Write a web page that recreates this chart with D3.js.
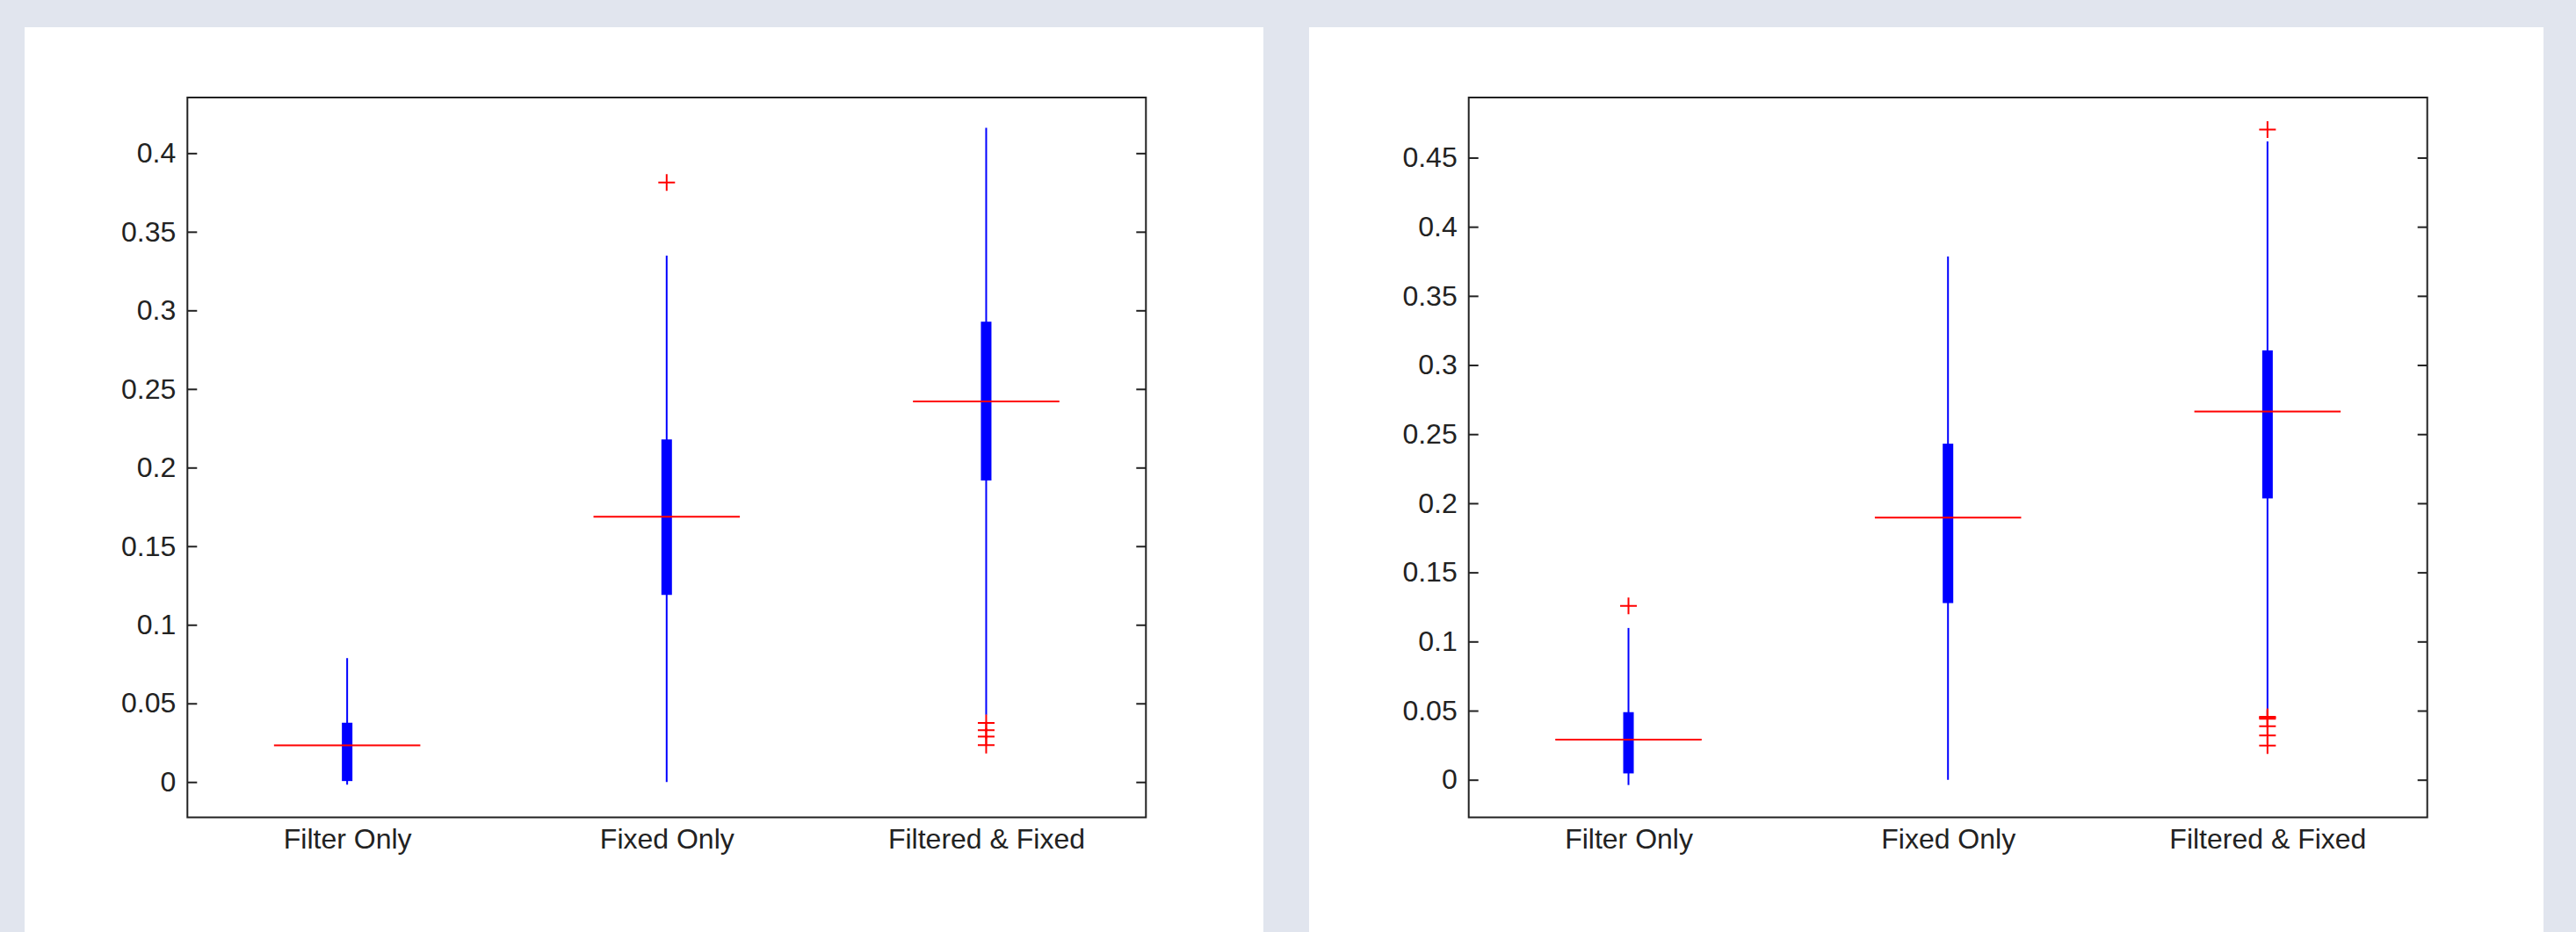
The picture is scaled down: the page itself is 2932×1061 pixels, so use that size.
<!DOCTYPE html>
<html>
<head>
<meta charset="utf-8">
<script src="https://cdn.jsdelivr.net/npm/d3@7"></script>
<style>
  body { margin: 0; background: #e1e5ee; }
  #wrapper { width: 2932px; height: 1061px; position: relative; }
  .panel { position: absolute; top: 31px; background: #ffffff; height: 1030px; }
  text { font-family: "Liberation Sans", Arial, Helvetica, sans-serif; }
</style>
</head>
<body>
<div id="wrapper">
  <div class="panel" id="left" style="left:28px;width:1410px"></div>
  <div class="panel" id="right" style="left:1490px;width:1405px"></div>
</div>
<script>
// Data
const categories = ['Filter Only', 'Fixed Only', 'Filtered & Fixed']

// left chart
const leftLowWhisker  = [-0.0017, 0.0, 0.0427]
const leftQ1          = [0.0006, 0.1190, 0.1918]
const leftMedian      = [0.0233, 0.1687, 0.2421]
const leftQ3          = [0.0377, 0.2179, 0.2928]
const leftHighWhisker = [0.0788, 0.3348, 0.4161]
const leftOutliers    = [[], [0.3813], [0.0375, 0.0330, 0.0289, 0.0235]]
const leftTicks       = [0, 0.05, 0.1, 0.15, 0.2, 0.25, 0.3, 0.35, 0.4]
const leftDomain      = [-0.0225, 0.4354]

// right chart
const rightLowWhisker  = [-0.0038, 0.0, 0.0465]
const rightQ1          = [0.0046, 0.1278, 0.2035]
const rightMedian      = [0.0290, 0.1896, 0.2664]
const rightQ3          = [0.0489, 0.2431, 0.3106]
const rightHighWhisker = [0.1098, 0.3785, 0.4618]
const rightOutliers    = [[0.1257], [], [0.4703, 0.0456, 0.0449, 0.0442, 0.0388, 0.0320, 0.0248]]
const rightTicks       = [0, 0.05, 0.1, 0.15, 0.2, 0.25, 0.3, 0.35, 0.4, 0.45]
const rightDomain      = [-0.0272, 0.4935]

function drawBoxplot(id, plotLeft, stats, ticks, domain) {
  const dimensions = {
    width: +d3.select(id).style('width').replace('px', ''),
    height: 1030,
    margins: { top: 80, left: plotLeft }
  }
  dimensions.boundedWidth = 1091
  dimensions.boundedHeight = 819.5

  const wrapper = d3.select(id).append('svg')
    .attr('width', dimensions.width)
    .attr('height', dimensions.height)

  const bounds = wrapper.append('g')
    .attr('transform', `translate(${dimensions.margins.left},${dimensions.margins.top})`)

  // Scales
  const xScale = d3.scalePoint()
    .domain(categories)
    .range([0, dimensions.boundedWidth])
    .padding(0.5)

  const step = xScale.step()

  const yScale = d3.scaleLinear()
    .domain(domain)
    .range([dimensions.boundedHeight, 0])

  const rows = categories.map((c, i) => ({
    cat: c,
    lo: stats.low[i], q1: stats.q1[i], med: stats.median[i],
    q3: stats.q3[i], hi: stats.high[i], out: stats.outliers[i]
  }))

  // Axes
  const fmt = d => String(+d.toFixed(2))
  const yAxis = bounds.append('g')
    .call(d3.axisLeft(yScale).tickValues(ticks).tickFormat(fmt).tickSize(-11).tickPadding(13))
  const yAxisRight = bounds.append('g')
    .attr('transform', `translate(${dimensions.boundedWidth},0)`)
    .call(d3.axisRight(yScale).tickValues(ticks).tickFormat('').tickSize(-11))
  const xAxis = bounds.append('g')
    .attr('transform', `translate(0,${dimensions.boundedHeight})`)
    .call(d3.axisBottom(xScale).tickSize(0).tickPadding(13))

  ;[yAxis, yAxisRight, xAxis].forEach(a => {
    a.select('.domain').remove()
    a.selectAll('line').attr('stroke', '#222').attr('stroke-width', 2)
    a.selectAll('text').attr('fill', '#222').style('font-size', '32px')
  })

  bounds.append('rect')
    .attr('width', dimensions.boundedWidth)
    .attr('height', dimensions.boundedHeight)
    .attr('fill', 'none')
    .attr('stroke', '#222')
    .attr('stroke-width', 2)

  const boxes = bounds.selectAll('.box')
    .data(rows)
    .enter().append('g')
    .attr('class', 'box')

  // whiskers
  boxes.append('line')
    .attr('x1', d => xScale(d.cat)).attr('x2', d => xScale(d.cat))
    .attr('y1', d => yScale(d.lo)).attr('y2', d => yScale(d.hi))
    .attr('stroke', '#0000ff').attr('stroke-width', 2)

  // box
  boxes.append('rect')
    .attr('x', d => xScale(d.cat) - 6)
    .attr('y', d => yScale(d.q3))
    .attr('width', 12)
    .attr('height', d => yScale(d.q1) - yScale(d.q3))
    .attr('fill', '#0000ff')

  // median
  boxes.append('line')
    .attr('x1', d => xScale(d.cat) - step * 0.229)
    .attr('x2', d => xScale(d.cat) + step * 0.229)
    .attr('y1', d => yScale(d.med)).attr('y2', d => yScale(d.med))
    .attr('stroke', '#ff0000').attr('stroke-width', 2)

  // outliers
  boxes.selectAll('.out')
    .data(d => d.out.map(v => ({ cat: d.cat, v })))
    .enter().append('path')
    .attr('class', 'out')
    .attr('d', d => {
      const x = xScale(d.cat), y = yScale(d.v)
      return `M${x - 9.5},${y}H${x + 9.5}M${x},${y - 9.5}V${y + 9.5}`
    })
    .attr('stroke', '#ff0000').attr('stroke-width', 2).attr('fill', 'none')
}

drawBoxplot('#left', 185.3, {
  low: leftLowWhisker, q1: leftQ1, median: leftMedian, q3: leftQ3,
  high: leftHighWhisker, outliers: leftOutliers
}, leftTicks, leftDomain)

drawBoxplot('#right', 181.7, {
  low: rightLowWhisker, q1: rightQ1, median: rightMedian, q3: rightQ3,
  high: rightHighWhisker, outliers: rightOutliers
}, rightTicks, rightDomain)
</script>
</body>
</html>
